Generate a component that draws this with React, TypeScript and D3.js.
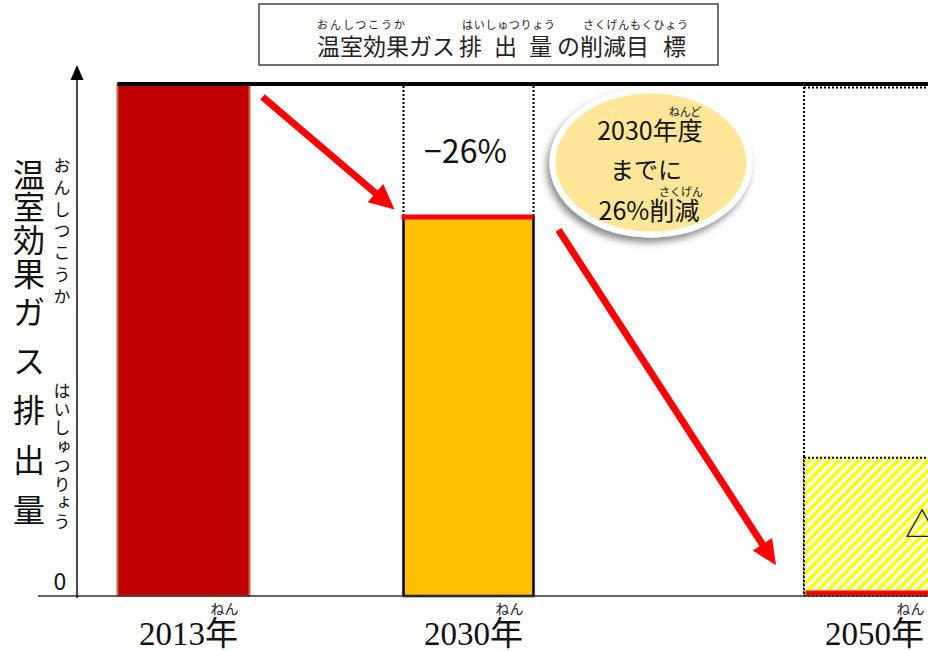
import React from 'react';
import * as d3 from 'd3';

const years = [2013, 2030, 2050];
const yearLabels = ['2013年', '2030年', '2050年'];
const yearRuby = ['ねん', 'ねん', 'ねん'];
const values = [100, 74, 27];
const reductionLabels = ['', '−26%', '△80%'];
const axisLabelChars = ['温', '室', '効', '果', 'ガ', 'ス', '排', '出', '量'];
const axisRuby = ['おんしつこうか', 'はいしゅつりょう'];
const titleParts = ['温室効果ガス', '排', '出', '量', 'の削減目', '標'];
const titleRuby = ['おんしつこうか', 'はいしゅつりょう', 'さくげんもくひょう'];
const calloutLines = ['2030年度', 'までに', '26%削減'];
const calloutRuby = ['ねんど', 'さくげん'];

const W = 928;
const H = 651;
const JP = "'Noto Sans CJK JP', 'Noto Sans', sans-serif";
const SERIF = "'Liberation Serif', 'DejaVu Serif', 'Noto Sans CJK JP', serif";

function arrowPath(x1: number, y1: number, x2: number, y2: number, sw = 7, hl = 25, hw = 24) {
  const dx = x2 - x1, dy = y2 - y1;
  const L = Math.hypot(dx, dy);
  const ux = dx / L, uy = dy / L;
  const px = -uy, py = ux;
  const bx = x2 - ux * hl, by = y2 - uy * hl;
  const pts: [number, number][] = [
    [x1 + px * sw / 2, y1 + py * sw / 2],
    [bx + px * sw / 2, by + py * sw / 2],
    [bx + px * hw / 2, by + py * hw / 2],
    [x2, y2],
    [bx - px * hw / 2, by - py * hw / 2],
    [bx - px * sw / 2, by - py * sw / 2],
    [x1 - px * sw / 2, y1 - py * sw / 2],
  ];
  return (d3.line()(pts) || '') + 'Z';
}

export default function App() {
  const y = d3.scaleLinear().domain([0, 100]).range([596, 84]);
  const x = d3.scaleLinear().domain(years).range([183.5, 468.5, 869.5]);
  const bw = 132;
  const base = y(0);
  const top = y(values[0]);

  const a1 = arrowPath(x(2013) + bw / 2 + 13, y(97.5), x(2030) - bw / 2 - 8, y(75.5));
  const a2 = arrowPath(x(2030) + bw / 2 + 24, y(71.5), x(2050) - bw / 2 - 27.5, y(6), 7, 25, 23);

  const charCenters = [173, 205, 238, 272, 310, 359, 408, 458, 508];

  return (
    <svg width={W} height={H} style={{ position: 'absolute', left: 0, top: 0, display: 'block', background: '#fff' }}>
      <defs>
        <pattern id="hatch" patternUnits="userSpaceOnUse" width="7" height="7" patternTransform="rotate(45)">
          <rect x="0" y="0" width="7" height="7" fill="#ffffff" />
          <rect x="0" y="0" width="3.6" height="7" fill="#FFFF00" />
        </pattern>
        <filter id="shadow" x="-20%" y="-20%" width="140%" height="150%">
          <feDropShadow dx="-3" dy="5" stdDeviation="3.5" floodColor="#000" floodOpacity="0.45" />
        </filter>
      </defs>

      {/* Title box */}
      <rect x={259} y={4} width={459} height={61} fill="#fff" stroke="#444" strokeWidth={1.5} />
      <g fontFamily={JP} fill="#222">
        {[317, 459, 494, 529, 557, 663].map((tx, i) => (
          <text key={i} x={tx} y={55} fontSize={23}>{titleParts[i]}</text>
        ))}
        {[[317, 88], [462, 93], [583, 105]].map(([tx, tl], i) => (
          <text key={'r' + i} x={tx} y={29} fontSize={11} textLength={tl} lengthAdjust="spacing">{titleRuby[i]}</text>
        ))}
      </g>

      {/* Y-axis label */}
      <g fontFamily={JP} fill="#111">
        {axisLabelChars.map((c, i) => (
          <text key={i} x={29} y={charCenters[i]} fontSize={32} textAnchor="middle" dominantBaseline="central">{c}</text>
        ))}
        <text x={62} y={157} fontSize={17} writingMode="vertical-rl" textLength={148} lengthAdjust="spacing">{axisRuby[0]}</text>
        <text x={62} y={382} fontSize={17} writingMode="vertical-rl" textLength={148} lengthAdjust="spacing">{axisRuby[1]}</text>
        <text x={60} y={590} fontSize={23} textAnchor="middle">0</text>
      </g>

      {/* 2013 bar */}
      <rect x={x(2013) - bw / 2} y={y(values[0])} width={bw} height={base - y(values[0])} fill="#C00000" stroke="#C0703A" strokeWidth={2} />

      {/* 2030 dotted guides */}
      <line x1={x(2030) - bw / 2 + 1} x2={x(2030) - bw / 2 + 1} y1={top + 2} y2={y(values[1])} stroke="#000" strokeWidth={2} strokeDasharray="2,2" />
      <line x1={x(2030) + bw / 2 - 1} x2={x(2030) + bw / 2 - 1} y1={top + 2} y2={y(values[1])} stroke="#000" strokeWidth={2} strokeDasharray="2,2" />
      {/* 2030 bar */}
      <rect x={x(2030) - bw / 2 + 1} y={y(values[1])} width={bw - 2} height={base - y(values[1])} fill="#FFC000" stroke="#000" strokeWidth={2.5} />
      <line x1={x(2030) - bw / 2 - 1} x2={x(2030) + bw / 2 - 1} y1={y(values[1])} y2={y(values[1])} stroke="#FF0000" strokeWidth={5} />
      <text x={x(2030) - 3} y={163} fontFamily={JP} fontSize={32} textAnchor="middle" fill="#111">{reductionLabels[1]}</text>

      {/* 2050 */}
      <line x1={x(2050) - bw / 2 + 0.5} x2={W} y1={top + 3.5} y2={top + 3.5} stroke="#000" strokeWidth={2} strokeDasharray="2,2" />
      <line x1={x(2050) - bw / 2 + 0.5} x2={x(2050) - bw / 2 + 0.5} y1={top + 3} y2={base} stroke="#000" strokeWidth={2} strokeDasharray="2,2" />
      <rect x={x(2050) - bw / 2 + 0.5} y={y(values[2])} width={bw} height={base - y(values[2])} fill="url(#hatch)" stroke="#000" strokeWidth={2} strokeDasharray="2,2" />
      <text x={905} y={537} fontFamily={JP} fontSize={34} fill="#111">{reductionLabels[2]}</text>
      <line x1={x(2050) - bw / 2 + 2} x2={W} y1={base - 3} y2={base - 3} stroke="#FF0000" strokeWidth={5} />

      {/* baseline & axis */}
      <line x1={38} x2={W} y1={base} y2={base} stroke="#333" strokeWidth={1.5} />
      <line x1={77} x2={77} y1={78} y2={base + 2} stroke="#111" strokeWidth={1.5} />
      <path d={d3.line()([[77, 65], [70.5, 80], [83.5, 80]]) + 'Z'} fill="#000" />

      {/* top reference line */}
      <line x1={x(2013) - bw / 2} x2={W} y1={top} y2={top} stroke="#000" strokeWidth={4} />

      {/* arrows */}
      <path d={a1} fill="#FF0000" />
      <path d={a2} fill="#FF0000" />

      {/* callout ellipse */}
      <ellipse cx={651} cy={162.5} rx={98.5} ry={72} fill="#FFE699" stroke="#fff" strokeWidth={6} filter="url(#shadow)" />
      <g fontFamily={JP} fill="#111" textAnchor="middle">
        <text x={650} y={140} fontSize={25}>{calloutLines[0]}</text>
        <text x={685} y={116} fontSize={11}>{calloutRuby[0]}</text>
        <text x={646} y={179} fontSize={24}>{calloutLines[1]}</text>
        <text x={649} y={220} fontSize={25}>{calloutLines[2]}</text>
        <text x={681} y={196} fontSize={11}>{calloutRuby[1]}</text>
      </g>

      {/* x labels */}
      {years.map((yr, i) => (
        <g key={yr}>
          <text x={x(yr) + 5} y={645} fontFamily={SERIF} fontSize={33} textAnchor="middle" fill="#111">{yearLabels[i]}</text>
          <text x={x(yr) + 41} y={614} fontFamily={JP} fontSize={14} textAnchor="middle" fill="#222">{yearRuby[i]}</text>
        </g>
      ))}
    </svg>
  );
}
